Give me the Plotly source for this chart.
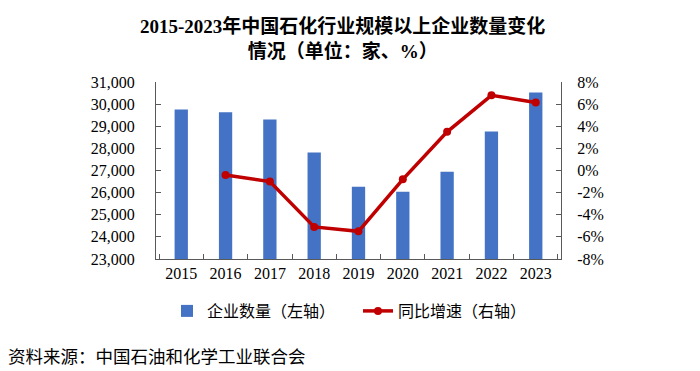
import plotly.graph_objects as go

years = ["2015", "2016", "2017", "2018", "2019", "2020", "2021", "2022", "2023"]
enterprise_count = [29760, 29630, 29300, 27810, 26260, 26040, 26940, 28760, 30530]
yoy_growth = [None, -0.4, -1.0, -5.1, -5.5, -0.8, 3.5, 6.8, 6.15]

left_ticks = [23000, 24000, 25000, 26000, 27000, 28000, 29000, 30000, 31000]
left_labels = ["23,000", "24,000", "25,000", "26,000", "27,000", "28,000", "29,000", "30,000", "31,000"]
right_ticks = [-8, -6, -4, -2, 0, 2, 4, 6, 8]
right_labels = ["-8%", "-6%", "-4%", "-2%", "0%", "2%", "4%", "6%", "8%"]

title_text = "<b>2015-2023年中国石化行业规模以上企业数量变化<br>情况（单位：家、%）</b>"
source_text = "资料来源：中国石油和化学工业联合会"
bar_name = "企业数量（左轴）"
line_name = "同比增速（右轴）"

FONT = "Liberation Serif, Noto Sans CJK SC, serif"
AXIS_COLOR = "#595959"

fig = go.Figure()
fig.add_trace(go.Bar(
    x=years, y=enterprise_count, name=bar_name,
    marker=dict(color="#4472C4", line=dict(width=0)),
    yaxis="y",
))
fig.add_trace(go.Scatter(
    x=years, y=yoy_growth, name=line_name, mode="lines+markers",
    line=dict(color="#C00000", width=3.5),
    marker=dict(color="#C00000", size=8),
    yaxis="y2", connectgaps=False,
))

# page has an 8px body margin, so the figure is 692x363 and offsets are shifted by 8px
fig.update_layout(
    width=692, height=363,
    margin=dict(l=148, r=139, t=74, b=112),
    paper_bgcolor="white", plot_bgcolor="white",
    font=dict(family=FONT, size=16, color="black"),
    bargap=0.7,
    showlegend=True,
    legend=dict(
        orientation="h", x=(167 - 156) / 405, xanchor="left",
        y=(259 - 311) / 177, yanchor="middle",
        font=dict(size=16, family=FONT),
        entrywidth=146, entrywidthmode="pixels",
        bgcolor="rgba(0,0,0,0)",
    ),
    xaxis=dict(
        type="category", showline=True, linecolor=AXIS_COLOR, linewidth=1,
        ticks="inside", tickson="boundaries", ticklen=5, tickcolor=AXIS_COLOR,
        showgrid=False, tickfont=dict(size=16), mirror=False,
    ),
    yaxis=dict(
        range=[23000, 31000], tickmode="array",
        tickvals=left_ticks, ticktext=left_labels,
        showline=True, linecolor=AXIS_COLOR, linewidth=1,
        ticks="inside", ticklen=5, tickcolor=AXIS_COLOR,
        showgrid=False, zeroline=False, tickfont=dict(size=16),
        ticklabelstandoff=17,
    ),
    yaxis2=dict(
        range=[-8, 8], tickmode="array",
        tickvals=right_ticks, ticktext=right_labels,
        overlaying="y", side="right",
        showline=True, linecolor=AXIS_COLOR, linewidth=1,
        ticks="inside", ticklen=5, tickcolor=AXIS_COLOR,
        showgrid=False, zeroline=False, tickfont=dict(size=16),
        ticklabelstandoff=12,
    ),
    annotations=[
        dict(text=title_text, xref="paper", yref="paper",
             x=(342 - 156) / 405, y=(259 - 38.5) / 177,
             xanchor="center", yanchor="middle", showarrow=False,
             font=dict(size=19, family=FONT, color="black")),
        dict(text=source_text, xref="paper", yref="paper",
             x=(6 - 156) / 405, y=(259 - 357) / 177,
             xanchor="left", yanchor="middle", showarrow=False,
             font=dict(size=17.5, family=FONT, color="black")),
    ],
)

fig.write_html("out.html")
